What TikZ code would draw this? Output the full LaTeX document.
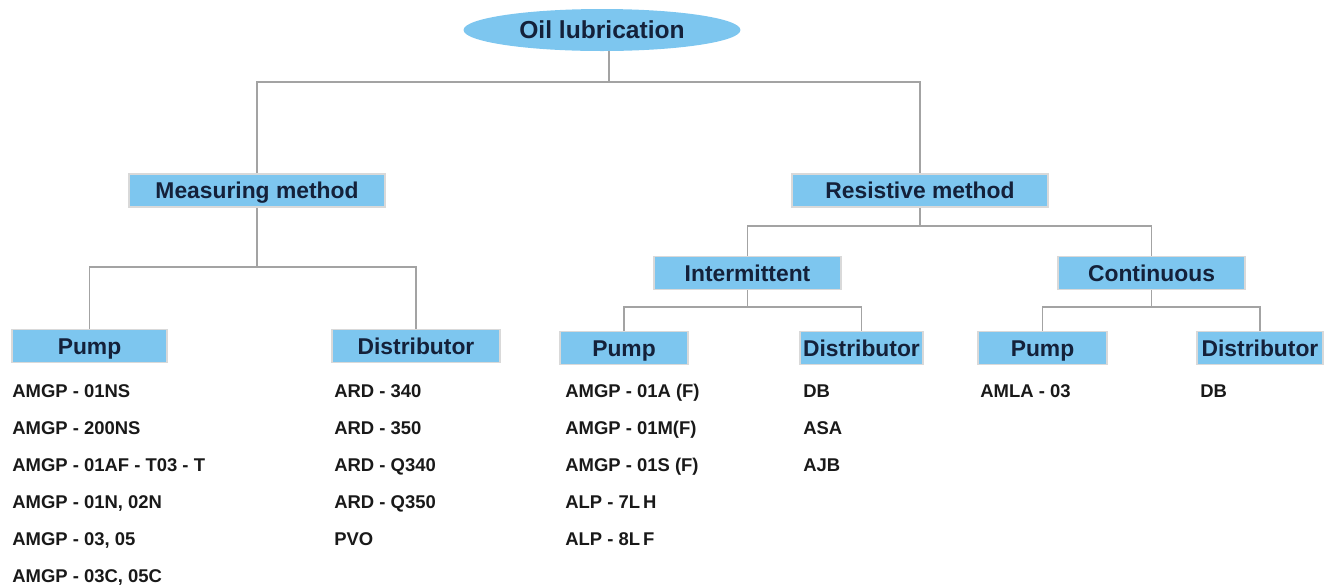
\documentclass[tikz,border=0pt]{standalone}
\usepackage{fontspec}
\setmainfont{Liberation Sans}
\usetikzlibrary{shapes.geometric}
\definecolor{boxblue}{HTML}{7DC6EF}
\definecolor{labelnavy}{HTML}{14213A}
\definecolor{linkgray}{HTML}{A3A3A3}

\begin{document}
\begin{tikzpicture}[x=0.02cm,y=-0.02cm,
    box/.style={rectangle, fill=boxblue, draw=black!15, line width=0.9pt,
      inner sep=0pt, minimum height=0.66cm, text=labelnavy,
      text height=9.2pt, text depth=0pt,
      font=\fontsize{13}{15}\selectfont\bfseries},
    link/.style={draw=linkgray, line width=0.7pt},
    item/.style={anchor=base west, inner sep=0pt, text=black!90,
      font=\fontsize{10.5}{12}\selectfont\bfseries}]
  \useasboundingbox (0,0) rectangle (1332,586);
  % root
  \node[ellipse, fill=boxblue, inner sep=0pt, minimum width=5.54cm,
    minimum height=0.84cm, text=labelnavy, text height=10pt, text depth=0pt,
    font=\fontsize{14}{16}\selectfont\bfseries]
    (oil) at (602,30) {Oil lubrication};
  % methods
  \node[box, minimum width=5.12cm] (meas) at (257,190.5) {Measuring method};
  \node[box, minimum width=5.12cm] (resi) at (920,190.5) {Resistive method};
  \node[box, minimum width=3.74cm] (inter) at (747.5,273) {Intermittent};
  \node[box, minimum width=3.74cm] (cont) at (1151.5,273) {Continuous};
  % pumps and distributors
  \node[box, minimum width=3.1cm] (mpump) at (89.5,346) {Pump};
  \node[box, minimum width=3.36cm] (mdist) at (416,346) {Distributor};
  \node[box, minimum width=2.56cm] (ipump) at (624,348) {Pump};
  \node[box, minimum width=2.46cm] (idist) at (861.5,348) {Distributor};
  \node[box, minimum width=2.58cm] (cpump) at (1042.5,348) {Pump};
  \node[box, minimum width=2.52cm] (cdist) at (1260,348) {Distributor};
  % junctions
  \coordinate (b0) at (609,82);
  \coordinate (b1) at (257,267);
  \coordinate (b2) at (920,226);
  \coordinate (b3) at (747.5,307);
  \coordinate (b4) at (1151.5,307);
  \draw[link] (oil.south -| b0) -- (b0);
  \draw[link] (meas) |- (b0) -| (resi);
  \draw[link] (meas) -- (b1);
  \draw[link] (mpump) |- (b1) -| (mdist);
  \draw[link] (resi) -- (b2);
  \draw[link] (inter) |- (b2) -| (cont);
  \draw[link] (inter) -- (b3);
  \draw[link] (ipump) |- (b3) -| (idist);
  \draw[link] (cont) -- (b4);
  \draw[link] (cpump) |- (b4) -| (cdist);
  % model lists
  \foreach \t [count=\k] in {AMGP - 01NS, AMGP - 200NS, AMGP - 01AF - T03 - T,
      {AMGP - 01N, 02N}, {AMGP - 03, 05}, {AMGP - 03C, 05C}}
    \node[item] (mp\k) at (12,360+37*\k) {\t};
  \foreach \t [count=\k] in {ARD - 340, ARD - 350, ARD - Q340, ARD - Q350, PVO}
    \node[item] (md\k) at (334,360+37*\k) {\t};
  \foreach \t [count=\k] in {AMGP - 01A (F), AMGP - 01M(F), AMGP - 01S (F),
      ALP - 7L\,H, ALP - 8L\,F}
    \node[item] (ip\k) at (565,360+37*\k) {\t};
  \foreach \t [count=\k] in {DB, ASA, AJB}
    \node[item] (id\k) at (803,360+37*\k) {\t};
  \node[item] (cp1) at (980,397) {AMLA - 03};
  \node[item] (cd1) at (1200,397) {DB};
\end{tikzpicture}
\end{document}
